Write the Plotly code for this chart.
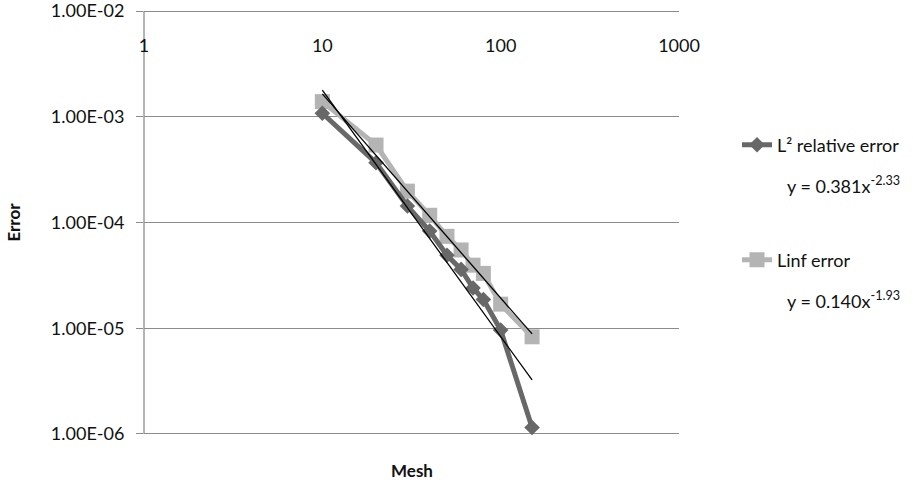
import plotly.graph_objects as go

# ---- data ----
mesh = [10, 20, 30, 40, 50, 60, 70, 80, 100, 150]
l2_error = [1.08e-3, 3.67e-4, 1.43e-4, 8.3e-5, 4.9e-5, 3.6e-5, 2.4e-5, 1.87e-5, 9.6e-6, 1.15e-6]
linf_error = [1.39e-3, 5.4e-4, 1.98e-4, 1.17e-4, 7.4e-5, 5.5e-5, 3.95e-5, 3.3e-5, 1.69e-5, 8.3e-6]
series_names = ["L² relative error", "Linf error"]
fit_coef = [0.381, 0.140]
fit_exp = [-2.33, -1.93]
fit_labels = ["y = 0.381x<sup>-2.33</sup>", "y = 0.140x<sup>-1.93</sup>"]
x_tickvals = [1, 10, 100, 1000]
x_ticktext = ["1", "10", "100", "1000"]
y_tickvals = [1e-6, 1e-5, 1e-4, 1e-3, 1e-2]
y_ticktext = ["1.00E-06", "1.00E-05", "1.00E-04", "1.00E-03", "1.00E-02"]

FONT = "Lato"
TXT = "#111111"
GRID = "#8c8c8c"
DARK = "#686868"
LIGHT = "#b4b4b4"

fig = go.Figure()

# Linf series (drawn first)
fig.add_trace(go.Scatter(
    x=mesh, y=linf_error, mode="lines+markers", name=series_names[1],
    line=dict(color=LIGHT, width=5),
    marker=dict(symbol="square", size=15, color=LIGHT),
    legend="legend2",
))
# L2 series
fig.add_trace(go.Scatter(
    x=mesh, y=l2_error, mode="lines+markers", name=series_names[0],
    line=dict(color=DARK, width=5),
    marker=dict(symbol="diamond", size=12, color=DARK),
    legend="legend",
))

# power-law trendlines
for a, b in zip(fit_coef, fit_exp):
    xs = [mesh[0], mesh[-1]]
    ys = [a * x ** b for x in xs]
    fig.add_trace(go.Scatter(
        x=xs, y=ys, mode="lines", showlegend=False,
        line=dict(color="#000000", width=1.3), hoverinfo="skip",
    ))

L, R, T, B = 144, 234, 9, 47
W, H = 913, 483
pw, ph = W - L - R, H - T - B

def px2x(p):
    return (p - L) / pw

def py2y(p):
    return (H - B - p) / ph

fig.update_layout(
    width=W, height=H,
    margin=dict(l=L, r=R, t=T, b=B, autoexpand=False),
    paper_bgcolor="white", plot_bgcolor="white",
    font=dict(family=FONT, size=18, color=TXT),
    xaxis=dict(
        type="log", range=[0, 3], side="bottom",
        anchor="free", position=py2y(33), automargin=False,
        tickvals=x_tickvals, ticktext=x_ticktext,
        ticklabeloverflow="allow",
        showgrid=False, zeroline=False, showline=False, ticks="",
        title=None,
    ),
    yaxis=dict(
        type="log", range=[-6.019, -1.981], automargin=False,
        tickvals=y_tickvals, ticktext=y_ticktext,
        showgrid=True, gridcolor=GRID, gridwidth=1.3,
        showline=False,
        ticks="outside", ticklen=7, tickcolor=GRID, tickwidth=1.3,
        ticklabelstandoff=8, ticklabeloverflow="allow",
        zeroline=False,
        title=dict(text="<b>Error</b>", standoff=25, font=dict(size=17)),
    ),
    legend=dict(
        x=px2x(737), y=py2y(145), xanchor="left", yanchor="middle",
        bgcolor="rgba(0,0,0,0)", font=dict(size=18),
    ),
    legend2=dict(
        x=px2x(737), y=py2y(260), xanchor="left", yanchor="middle",
        bgcolor="rgba(0,0,0,0)", font=dict(size=18),
    ),
    showlegend=True,
)

# vertical axis line spanning the 1E-06 .. 1E-02 decades
fig.add_shape(
    type="line", xref="x domain", yref="y", x0=0, x1=0,
    y0=y_tickvals[0], y1=y_tickvals[-1],
    line=dict(color=GRID, width=1.3), layer="below",
)

# trendline equations (legend labels)
for lbl, yy in zip(fit_labels, [185, 300]):
    fig.add_annotation(
        text=lbl, xref="paper", yref="paper", x=px2x(785), y=py2y(yy),
        xanchor="left", yanchor="middle", showarrow=False,
        font=dict(family=FONT, size=18, color=TXT),
    )

# x-axis title "Mesh" at bottom
fig.add_annotation(
    text="<b>Mesh</b>", xref="paper", yref="paper", x=0.5, y=py2y(470),
    xanchor="center", yanchor="middle", showarrow=False,
    font=dict(family=FONT, size=17, color=TXT),
)

fig.write_html("out.html")
